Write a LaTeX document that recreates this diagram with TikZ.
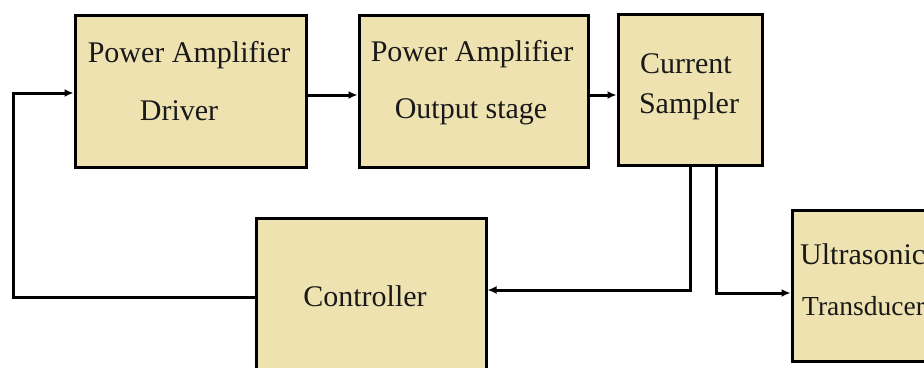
\documentclass[tikz,border=0pt]{standalone}
\usepackage{fontspec}
\setmainfont{Liberation Serif}
\usetikzlibrary{arrows.meta,calc}
\definecolor{boxfill}{RGB}{238,227,176}
\tikzset{
  blk/.style={draw=black, line width=3pt, fill=boxfill, inner sep=0pt},
  lbl/.style={inner sep=0pt, font=\fontsize{30}{36}\selectfont, text=black!90},
  smalllbl/.style={inner sep=0pt, font=\fontsize{27.5}{33}\selectfont, text=black!90},
  arr/.style={line width=3pt, -{Latex[length=9pt,width=8pt]}},
  wire/.style={line width=3pt}
}
\begin{document}
\begin{tikzpicture}[x=1pt,y=-1pt]
\useasboundingbox (0,0) rectangle (924,367);
\clip (0,0) rectangle (924,367);
% boxes
\node[blk, minimum width=231pt, minimum height=152pt] (drv) at (190.5,91) {};
\node[blk, minimum width=229pt, minimum height=152pt] (out) at (473.5,91) {};
\node[blk, minimum width=144pt, minimum height=151pt] (smp) at (690,89.5) {};
\node[blk, minimum width=230pt, minimum height=202pt] (ctrl) at (371,319) {};
\node[blk, minimum width=208pt, minimum height=151pt] (trn) at (896,285.5) {};
% labels
\node[lbl] (drv1) at (189,55) {Power Amplifier};
\node[lbl] (drv2) at (179,111) {Driver};
\node[lbl] (out1) at (472,54) {Power Amplifier};
\node[lbl] (out2) at (471,112) {Output stage};
\node[lbl] (smp1) at (686,64) {Current};
\node[lbl] (smp2) at (689,106) {Sampler};
\node[lbl] (ctrl1) at (365,296) {Controller};
\node[lbl, anchor=west] (trn1) at (800,254) {Ultrasonic};
\node[smalllbl, anchor=west] (trn2) at (802,306) {Transducer};
% connectors
\coordinate (fbl) at (13,297);
\draw[arr] ([yshift=22pt]ctrl.west) -- (fbl) |- ([yshift=-2pt]drv.west);
\draw[arr] ([yshift=-4pt]drv.east) -- ([yshift=-4pt]drv.east -| out.west);
\draw[arr] ([yshift=-4pt]out.east) -- ([yshift=-4pt]out.east -| smp.west);
\draw[arr] (smp.south) |- ([yshift=29pt]ctrl.east);
\draw[arr] ([xshift=26pt]smp.south) |- ([yshift=-7.5pt]trn.west);
\end{tikzpicture}
\end{document}
